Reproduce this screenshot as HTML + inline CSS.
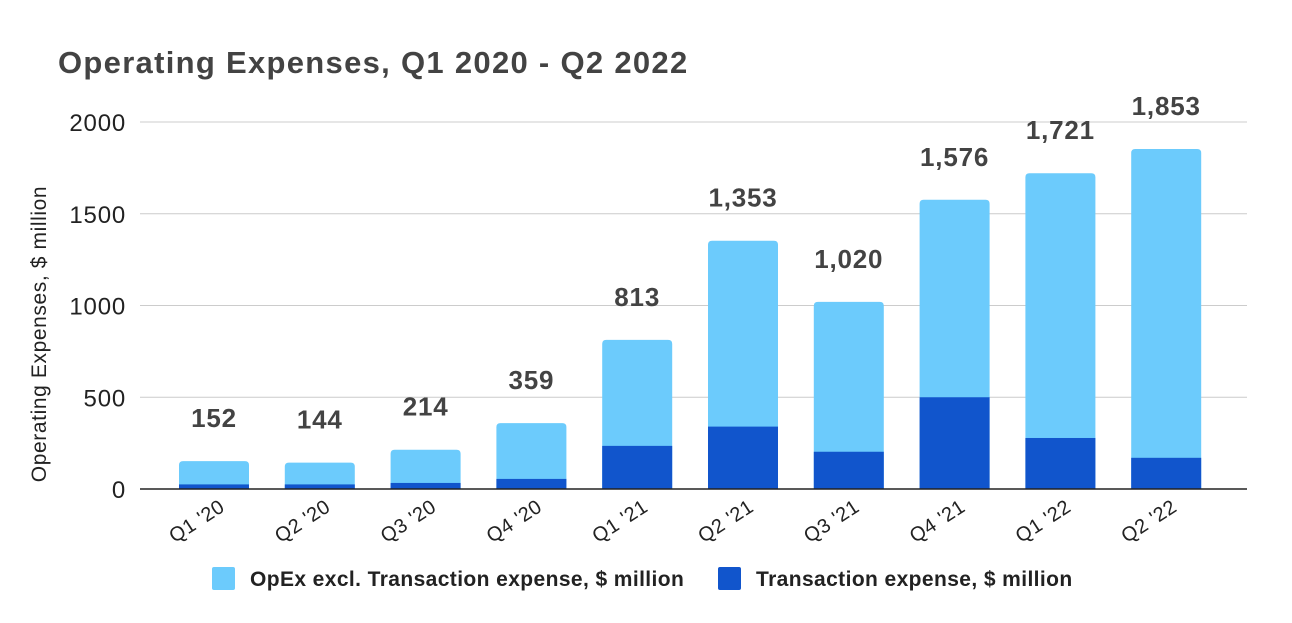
<!DOCTYPE html>
<html><head><meta charset="utf-8"><style>
body{margin:0;background:#fff;}
svg{display:block;font-family:"Liberation Sans",Arial,sans-serif;}
</style></head><body>
<svg id="chart" width="1292" height="623" viewBox="0 0 1292 623">
<text x="58" y="73" font-size="31" font-weight="bold" fill="#434343" letter-spacing="1.3">Operating Expenses, Q1 2020 - Q2 2022</text>
<text transform="translate(46,334) rotate(-90)" text-anchor="middle" font-size="21" fill="#222" letter-spacing="0.6">Operating Expenses, $ million</text>
<g id="grid"></g><g id="bars"></g><g id="labels"></g>
<g>
<rect x="212" y="567" width="23" height="23" rx="2" fill="#6ccbfc"/>
<text x="250" y="586" font-size="21" font-weight="bold" fill="#222" letter-spacing="0.4">OpEx excl. Transaction expense, $ million</text>
<rect x="718" y="567" width="23" height="23" rx="2" fill="#1155cc"/>
<text x="756" y="586" font-size="21" font-weight="bold" fill="#222" letter-spacing="0.4">Transaction expense, $ million</text>
</g>
</svg>
<script>
const categories=["Q1 '20","Q2 '20","Q3 '20","Q4 '20","Q1 '21","Q2 '21","Q3 '21","Q4 '21","Q1 '22","Q2 '22"];
const totals=[152,144,214,359,813,1353,1020,1576,1721,1853];
const transaction=[25,25,33,55,235,340,203,500,278,170];
const totalLabels=["152","144","214","359","813","1,353","1,020","1,576","1,721","1,853"];
const yTicks=[0,500,1000,1500,2000];
const NS="http://www.w3.org/2000/svg";
const y=v=>489-v*(367/2000);
const x=i=>214+i*105.8;
function mk(t,a,p){const e=document.createElementNS(NS,t);for(const k in a)e.setAttribute(k,a[k]);p.appendChild(e);return e;}
const grid=document.getElementById('grid'),bars=document.getElementById('bars'),labels=document.getElementById('labels');
yTicks.forEach(t=>{
 if(t>0){const l=mk('line',{x1:140,x2:1247,y1:y(t),y2:y(t),stroke:'#ccc','stroke-width':1},grid);
 
 }
 const tx=mk('text',{x:126,y:y(t)+9,'text-anchor':'end','font-size':24,fill:'#222','letter-spacing':0.8},grid);tx.textContent=t;
 
 
});
categories.forEach((c,i)=>{
 const bw=70,bx=x(i)-bw/2;
 const light=mk('path',{d:`M${bx},${y(0)} V${y(totals[i])+4} q0,-4 4,-4 h${bw-8} q4,0 4,4 V${y(0)} Z`,fill:'#6ccbfc'},bars);
 
 
 const dark=mk('rect',{x:bx,y:y(transaction[i]),width:bw,height:y(0)-y(transaction[i]),fill:'#1155cc'},bars);
 
 
 const v=mk('text',{x:x(i),y:y(totals[i])-34,'text-anchor':'middle','font-size':26,'font-weight':'bold',fill:'#434343','letter-spacing':0.8},labels);
 v.textContent=totalLabels[i];
 
 
 const xl=mk('text',{transform:`translate(${x(i)+12},${510}) rotate(-33)`,'text-anchor':'end','font-size':20,fill:'#222','letter-spacing':0.5},labels);
 xl.textContent=c;
 
 
});
const ax=mk('line',{x1:140,x2:1247,y1:489,y2:489,stroke:'#222','stroke-width':1.5},labels);


</script>
</body></html>
